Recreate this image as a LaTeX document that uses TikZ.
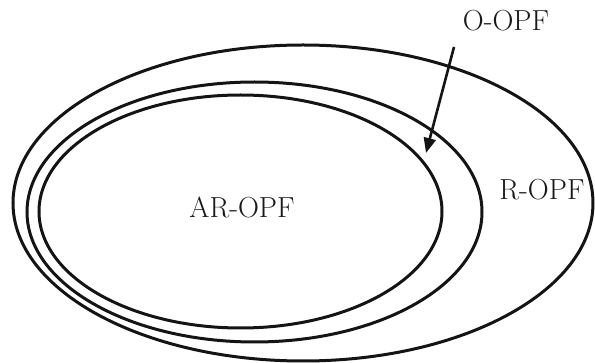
\documentclass[tikz,border=0pt]{standalone}
\usetikzlibrary{arrows.meta}
\begin{document}
\begin{tikzpicture}[x=1pt,y=-1pt,
  setline/.style={line width=3pt,draw=black!92},
  lbl/.style={font=\fontsize{29}{31}\selectfont,text=black!90,inner sep=0pt}]
\useasboundingbox (0,0) rectangle (595,363);
% ellipses
\draw[setline] (303,203) ellipse [x radius=290, y radius=158];
\draw[setline] (254.5,212) ellipse [x radius=227.5, y radius=130];
\draw[setline] (240.5,211.5) ellipse [x radius=201.5, y radius=116.5];
% labels
\node[lbl] (ar) at (242,207) {AR-OPF};
\node[lbl] (r) at (542,190) {R-OPF};
\node[lbl] (o) at (506,21) {O-OPF};
% arrow
\coordinate (tail) at (454,47);
\coordinate (tip) at (426,153);
\draw[line width=2.6pt,draw=black!92,-{Triangle[length=15pt,width=12pt]}] (tail) -- (tip);
\end{tikzpicture}
\end{document}
